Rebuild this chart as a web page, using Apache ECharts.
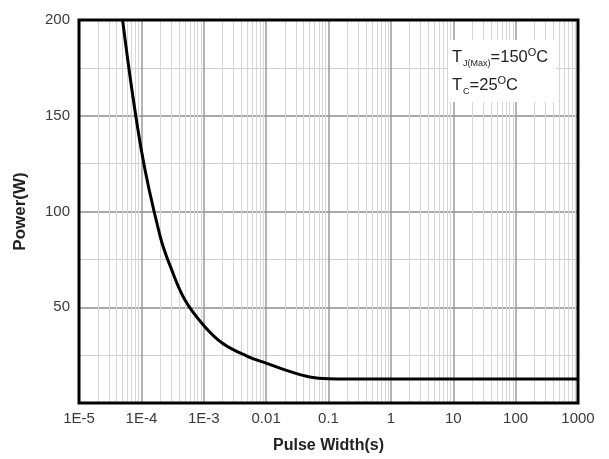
<!DOCTYPE html>
<html>
<head>
<meta charset="utf-8">
<script src="https://cdn.jsdelivr.net/npm/echarts@6/dist/echarts.min.js"></script>
<style>
html,body{margin:0;padding:0;background:#fff;}
#chart{width:609px;height:459px;}
</style>
</head>
<body>
<div id="chart"></div>
<script>
// Data
var pulseWidth = [5.0e-5, 1e-4, 2e-4, 3e-4, 5e-4, 1e-3, 2e-3, 5e-3, 1e-2, 2e-2, 5e-2, 0.1, 0.2, 1, 10, 100, 1000];
var power      = [200,    132,  87,   70.3, 53.8, 40.5, 31.2, 24.4, 20.8, 17.3, 13.6, 12.6, 12.5, 12.5, 12.5, 12.5, 12.5];
var xTickLabels = ['1E-5', '1E-4', '1E-3', '0.01', '0.1', '1', '10', '100', '1000'];
var yTickLabels = [50, 100, 150, 200];

var chart = echarts.init(document.getElementById('chart'));
var font = 'Liberation Sans, Arial, sans-serif';

var seriesData = pulseWidth.map(function (t, i) { return [t, power[i]]; });

chart.setOption({
  animation: false,
  backgroundColor: '#fff',
  grid: {
    left: 79, top: 20, right: 31, bottom: 56, z: 8,
    show: true, borderColor: '#000', borderWidth: 3, backgroundColor: 'transparent'
  },
  xAxis: {
    type: 'log', logBase: 10, min: 1e-5, max: 1000, interval: 1,
    name: 'Pulse Width(s)', nameLocation: 'middle', nameGap: 35,
    nameTextStyle: { fontFamily: font, fontSize: 16, fontWeight: 'bold', color: '#222' },
    axisLine: { show: false },
    axisTick: { show: false },
    axisLabel: {
      fontFamily: font, fontSize: 15, color: '#3a3a3a', margin: 8,
      formatter: function (v) {
        var e = Math.round(Math.log10(v));
        return xTickLabels[e + 5] || '';
      }
    },
    splitLine: { show: true, lineStyle: { color: '#9a9a9a', width: 1.5 } },
    minorTick: { show: false, splitNumber: 9 },
    minorSplitLine: { show: true, lineStyle: { color: '#d6d6d6', width: 1 } }
  },
  yAxis: {
    type: 'value', min: 0, max: 200, interval: 50,
    name: 'Power(W)', nameLocation: 'middle', nameGap: 50, nameRotate: 90,
    nameTextStyle: { fontFamily: font, fontSize: 17, fontWeight: 'bold', color: '#222' },
    axisLine: { show: false },
    axisTick: { show: false },
    axisLabel: {
      fontFamily: font, fontSize: 15, color: '#3a3a3a', margin: 9,
      formatter: function (v) { return yTickLabels.indexOf(v) >= 0 ? String(v) : ''; }
    },
    splitLine: { show: true, lineStyle: { color: '#8c8c8c', width: 1.5 } },
    minorTick: { show: false, splitNumber: 2 },
    minorSplitLine: { show: true, lineStyle: { color: '#cfcfcf', width: 1 } }
  },
  graphic: [
    {
      type: 'rect', left: 448, top: 40, z: 10,
      shape: { width: 108, height: 62 },
      style: { fill: '#fff' }
    },
    {
      type: 'text', left: 452, top: 43, z: 11,
      style: {
        text: '{t|T}{sub|J(Max)}{t|=150}{sup|O}{t|C}\n{t|T}{sub|C}{t|=25}{sup|O}{t|C}',
        rich: {
          t: { fontFamily: font, fontSize: 16.5, fill: '#222', lineHeight: 28, verticalAlign: 'middle' },
          sub: { fontFamily: font, fontSize: 9, fill: '#222', lineHeight: 28, verticalAlign: 'bottom', padding: [0, 0, 3, 1] },
          sup: { fontFamily: font, fontSize: 11, fill: '#222', lineHeight: 28, verticalAlign: 'top', padding: [4, 0, 0, 0] }
        }
      }
    }
  ],
  series: [{
    type: 'line',
    data: seriesData,
    smooth: 0.4,
    showSymbol: false,
    symbol: 'none',
    clip: true,
    lineStyle: { color: '#000', width: 3 },
    z: 5
  }]
});
</script>
</body>
</html>
